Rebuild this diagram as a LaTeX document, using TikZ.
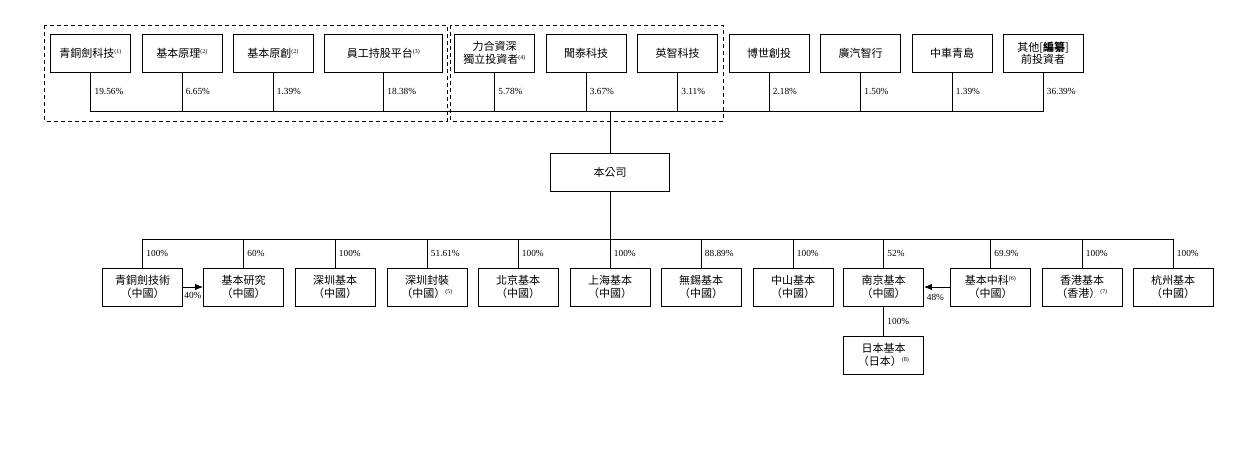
\documentclass[tikz,border=0pt]{standalone}
\usepackage{fontspec}
\setmainfont{Liberation Serif}
\newfontfamily\cjk{Noto Sans CJK TC}
\usetikzlibrary{arrows.meta}
\newcommand{\fn}[1]{\textsuperscript{\rmfamily\fontsize{6}{6}\selectfont(#1)}}
\tikzset{
  entity/.style={draw, line width=0.9pt, minimum width=80pt, minimum height=38pt,
    align=center, inner sep=1pt, font=\cjk\fontsize{11}{12.5}\selectfont},
  pct/.style={font=\fontsize{9.3}{10}\selectfont, anchor=west, inner sep=3.5pt},
  link/.style={line width=0.9pt},
  grp/.style={line width=0.8pt, dash pattern=on 4pt off 3pt},
}

\begin{document}
\begin{tikzpicture}[x=1pt, y=-1pt]
  \useasboundingbox (0,0) rectangle (1249,465);
  % shareholders
  \node[entity] (h1) at (90.7,53) {青銅劍科技\fn{1}};
  \node[entity] (h2) at (182,53) {基本原理\fn{2}};
  \node[entity] (h3) at (273,53) {基本原創\fn{2}};
  \node[entity, minimum width=118.7pt] (h4) at (383.5,53) {員工持股平台\fn{3}};
  \node[entity] (h5) at (494.5,53) {力合資深\\獨立投資者\fn{4}};
  \node[entity] (h6) at (586,53) {聞泰科技};
  \node[entity] (h7) at (677.5,53) {英智科技};
  \node[entity] (h8) at (769,53) {博世創投};
  \node[entity] (h9) at (860.5,53) {廣汽智行};
  \node[entity] (h10) at (952,53) {中車青島};
  \node[entity] (h11) at (1043,53) {其他[\textbf{編纂}]\\前投資者};
  \coordinate (bar) at (610,111);
  \draw[link] (h1.south) |- node[pct, pos=0.25] {19.56\%} (bar);
  \draw[link] (h2.south) |- node[pct, pos=0.25] {6.65\%} (bar);
  \draw[link] (h3.south) |- node[pct, pos=0.25] {1.39\%} (bar);
  \draw[link] (h4.south) |- node[pct, pos=0.25] {18.38\%} (bar);
  \draw[link] (h5.south) |- node[pct, pos=0.25] {5.78\%} (bar);
  \draw[link] (h6.south) |- node[pct, pos=0.25] {3.67\%} (bar);
  \draw[link] (h7.south) |- node[pct, pos=0.25] {3.11\%} (bar);
  \draw[link] (h8.south) |- node[pct, pos=0.25] {2.18\%} (bar);
  \draw[link] (h9.south) |- node[pct, pos=0.25] {1.50\%} (bar);
  \draw[link] (h10.south) |- node[pct, pos=0.25] {1.39\%} (bar);
  \draw[link] (h11.south) |- node[pct, pos=0.25] {36.39\%} (bar);
  % groups
  \draw[grp] (44.7,25) rectangle (447,121);
  \draw[grp] (450.7,25) rectangle (723,121);

  % company
  \node[entity, minimum width=119pt] (co) at (610,172) {本公司};
  \draw[link] (bar) -- (co.north);
  \coordinate (sub) at (610,239.3);
  \draw[link] (co.south) -- (sub);

  % subsidiaries
  \node[entity] (s1) at (142.5,287) {青銅劍技術\\（中國）};
  \node[entity] (s2) at (243.5,287) {基本研究\\（中國）};
  \node[entity] (s3) at (335,287) {深圳基本\\（中國）};
  \node[entity] (s4) at (427,287) {深圳封裝\\（中國）\fn{5}};
  \node[entity] (s5) at (518,287) {北京基本\\（中國）};
  \node[entity] (s6) at (610,287) {上海基本\\（中國）};
  \node[entity] (s7) at (701,287) {無錫基本\\（中國）};
  \node[entity] (s8) at (793,287) {中山基本\\（中國）};
  \node[entity] (s9) at (883.5,287) {南京基本\\（中國）};
  \node[entity] (s10) at (990.5,287) {基本中科\fn{6}\\（中國）};
  \node[entity] (s11) at (1082,287) {香港基本\\（香港）\fn{7}};
  \node[entity] (s12) at (1173,287) {杭州基本\\（中國）};
  \node[entity] (jp) at (883.5,355) {日本基本\\（日本）\fn{8}};
  \draw[link] (sub) -| node[pct, pos=0.75] {100\%} (s1.north);
  \draw[link] (sub) -| node[pct, pos=0.75] {60\%} (s2.north);
  \draw[link] (sub) -| node[pct, pos=0.75] {100\%} (s3.north);
  \draw[link] (sub) -| node[pct, pos=0.75] {51.61\%} (s4.north);
  \draw[link] (sub) -| node[pct, pos=0.75] {100\%} (s5.north);
  \draw[link] (sub) -- node[pct] {100\%} (s6.north);
  \draw[link] (sub) -| node[pct, pos=0.75] {88.89\%} (s7.north);
  \draw[link] (sub) -| node[pct, pos=0.75] {100\%} (s8.north);
  \draw[link] (sub) -| node[pct, pos=0.75] {52\%} (s9.north);
  \draw[link] (sub) -| node[pct, pos=0.75] {69.9\%} (s10.north);
  \draw[link] (sub) -| node[pct, pos=0.75] {100\%} (s11.north);
  \draw[link] (sub) -| node[pct, pos=0.75] {100\%} (s12.north);
  \draw[link] (s9.south) -- node[pct] {100\%} (jp.north);
  \draw[link, -{Latex[length=8pt, width=6.5pt]}] (s1.east) -- node[pct, pos=0, anchor=north west, inner sep=1pt, yshift=-4pt] {40\%} (s2.west);
  \draw[link, -{Latex[length=8pt, width=6.5pt]}] (s10.west) -- node[pct, pos=1, anchor=north west, inner sep=2.5pt, yshift=-4pt] {48\%} (s9.east);
\end{tikzpicture}
\end{document}
